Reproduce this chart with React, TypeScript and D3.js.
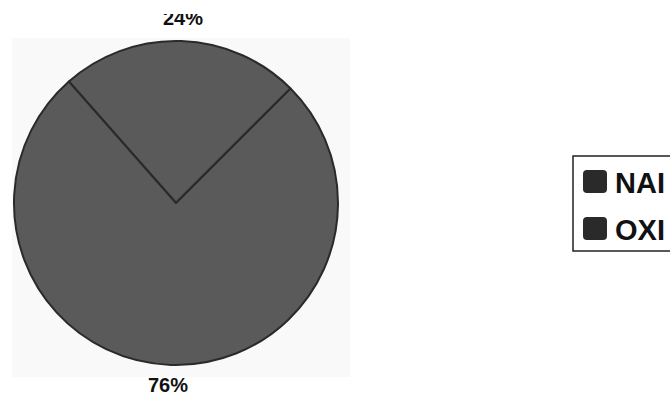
import React from "react";
import * as d3 from "d3";

const categories = ["NAI", "OXI"];
const values = [24, 76];
const labels = ["24%", "76%"];

const W = 670;
const H = 396;
const cx = 176;
const cy = 203;
const R = 162;
const startDeg = -41.4;

export default function App() {
  const pie = d3
    .pie<number>()
    .sort(null)
    .startAngle((startDeg * Math.PI) / 180)
    .endAngle((startDeg * Math.PI) / 180 + 2 * Math.PI);
  const arcs = pie(values);
  const arc = d3.arc<d3.PieArcDatum<number>>().innerRadius(0).outerRadius(R);
  const fill = "#5a5a5a";

  return (
    <svg
      width={W}
      height={H}
      style={{ position: "absolute", left: 0, top: 0, background: "#fff" }}
      fontFamily="Liberation Sans, Arial, sans-serif"
    >
      <defs>
        <clipPath id="topClip">
          <rect x={0} y={14} width={W} height={H} />
        </clipPath>
      </defs>
      <rect x={12} y={38} width={338} height={339} fill="#f9f9f9" />
      <g transform={`translate(${cx},${cy})`}>
        {arcs.map((a, i) => (
          <path
            key={categories[i]}
            d={arc(a) || ""}
            fill={fill}
            stroke="#2a2a2a"
            strokeWidth={2}
            strokeLinejoin="round"
          />
        ))}
      </g>
      <text
        x={183}
        y={25}
        textAnchor="middle"
        fontSize={20}
        fontWeight="bold"
        fill="#111"
        clipPath="url(#topClip)"
      >
        {labels[0]}
      </text>
      <text
        x={168}
        y={392}
        textAnchor="middle"
        fontSize={20}
        fontWeight="bold"
        fill="#111"
      >
        {labels[1]}
      </text>
      <rect
        x={573}
        y={156}
        width={110}
        height={95}
        fill="#fff"
        stroke="#222"
        strokeWidth={1.5}
      />
      {categories.map((c, i) => (
        <g key={c} transform={`translate(583,${170 + i * 47})`}>
          <rect x={0} y={0} width={24} height={23} rx={4} fill="#2a2a2a" />
          <text x={32} y={23} fontSize={29} fontWeight="bold" fill="#111">
            {c}
          </text>
        </g>
      ))}
    </svg>
  );
}
